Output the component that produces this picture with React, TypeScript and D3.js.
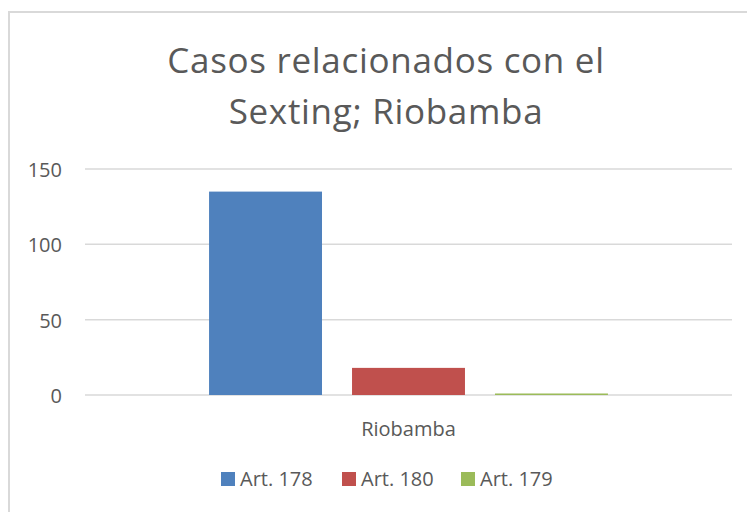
import React from "react";
import * as d3 from "d3";

const categories = ["Riobamba"];
const seriesNames = ["Art. 178", "Art. 180", "Art. 179"];
const seriesValues = [135, 18, 1];
const seriesColors = ["#4f81bd", "#c0504d", "#9bbb59"];
const yTicks = [0, 50, 100, 150];
const titleLines = ["Casos relacionados con el", "Sexting; Riobamba"];

const W = 747;
const H = 512;
const FONT = "'Open Sans', 'Liberation Sans', sans-serif";

export default function App() {
  const plotLeft = 85;
  const plotRight = 732;
  const y = d3.scaleLinear().domain([0, 150]).range([395, 169]);
  const x0 = d3.scaleBand().domain(categories).range([plotLeft, plotRight]).paddingInner(0).paddingOuter(0.311);
  const x1 = d3.scaleBand().domain(seriesNames).range([0, x0.bandwidth()]).paddingInner(0.21);

  const legendX = [221, 342, 461];

  return (
    <svg width={W} height={H} style={{ position: "absolute", left: 0, top: 0 }}>
      <rect x={0} y={0} width={W} height={H} fill="#fff" />
      <rect x={9} y={12} width={W} height={H} fill="#fff" stroke="#d9d9d9" strokeWidth={2} />
      {titleLines.map((t, i) => (
        <text key={i} x={386} y={73 + i * 51} textAnchor="middle" fontFamily={FONT} fontSize={35} letterSpacing={0.7} fill="#595959">
          {t}
        </text>
      ))}
      {yTicks.map((v) => (
        <g key={v}>
          <line x1={plotLeft} x2={plotRight} y1={y(v)} y2={y(v)} stroke="#d9d9d9" strokeWidth={1.5} />
          <text x={62} y={y(v) + 8} textAnchor="end" fontFamily={FONT} fontSize={20} fill="#595959">
            {v}
          </text>
        </g>
      ))}
      {categories.map((c) => (
        <g key={c}>
          {seriesNames.map((s, i) => {
            const bx = (x0(c) as number) + (x1(s) as number);
            return (
              <rect key={s} x={bx} y={y(seriesValues[i])} width={x1.bandwidth()} height={y(0) - y(seriesValues[i])} fill={seriesColors[i]} />
            );
          })}
          <text x={(x0(c) as number) + x0.bandwidth() / 2} y={436} textAnchor="middle" fontFamily={FONT} fontSize={20} fill="#595959">
            {c}
          </text>
        </g>
      ))}
      {seriesNames.map((s, i) => (
        <g key={s} transform={`translate(${legendX[i]},0)`}>
          <rect x={0} y={472} width={14} height={14} fill={seriesColors[i]} />
          <text x={19} y={486} fontFamily={FONT} fontSize={20} fill="#595959">
            {s}
          </text>
        </g>
      ))}
    </svg>
  );
}
